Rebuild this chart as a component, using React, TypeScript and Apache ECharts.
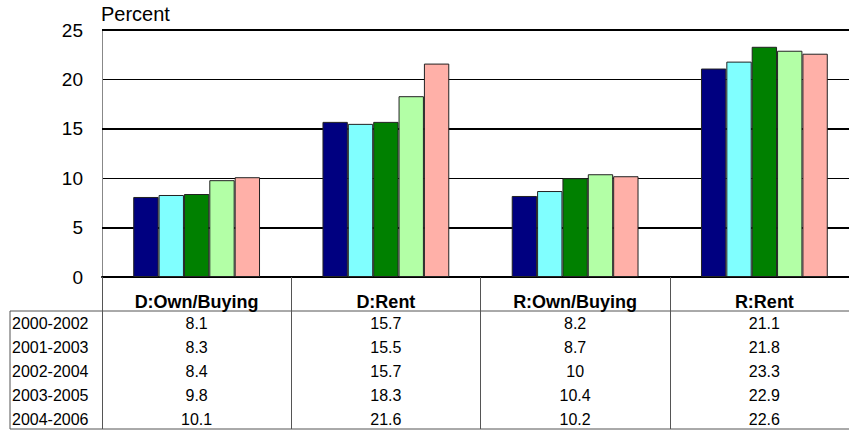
import React, { useEffect, useRef } from "react";
import * as echarts from "echarts";

const categories = ["D:Own/Buying", "D:Rent", "R:Own/Buying", "R:Rent"];
const periods = ["2000-2002", "2001-2003", "2002-2004", "2003-2005", "2004-2006"];
const s2000_2002 = [8.1, 15.7, 8.2, 21.1];
const s2001_2003 = [8.3, 15.5, 8.7, 21.8];
const s2002_2004 = [8.4, 15.7, 10, 23.3];
const s2003_2005 = [9.8, 18.3, 10.4, 22.9];
const s2004_2006 = [10.1, 21.6, 10.2, 22.6];
const seriesValues = [s2000_2002, s2001_2003, s2002_2004, s2003_2005, s2004_2006];
const colors = ["#000080", "#80FFFF", "#008000", "#B3FFA6", "#FFB0A8"];
const yTicks = [0, 5, 10, 15, 20, 25];
const thickLines = [5, 15, 25];

const FONT = "'Liberation Sans', Arial, sans-serif";

export default function App() {
  const ref = useRef<HTMLDivElement>(null);
  useEffect(() => {
    if (!ref.current) return;
    const chart = echarts.init(ref.current, null, { renderer: "svg" });
    const rowTop = 323.3;
    const rowStep = 24;
    chart.setOption({
      animation: false,
      textStyle: { fontFamily: FONT },
      grid: { left: 102, right: 0, top: 30, bottom: 153 },
      xAxis: {
        type: "category",
        data: categories,
        axisLine: { show: true, lineStyle: { color: "#000", width: 2 } },
        axisTick: { show: true, length: 152, lineStyle: { color: "#555", width: 1 } },
        axisLabel: {
          margin: 15,
          interval: 0,
          formatter: (value: string, index: number) =>
            `{h|${value}}\n` + seriesValues.map((s) => `{v|${s[index]}}`).join("\n"),
          rich: {
            h: { fontSize: 18, fontWeight: "bold", color: "#000", lineHeight: 19, fontFamily: FONT },
            v: { fontSize: 16, color: "#000", lineHeight: 24, fontFamily: FONT },
          },
        },
      },
      yAxis: {
        type: "value",
        min: yTicks[0],
        max: yTicks[yTicks.length - 1],
        interval: 5,
        axisLine: { show: true, lineStyle: { color: "#888", width: 1 } },
        axisTick: { show: false },
        axisLabel: { margin: 19, fontSize: 19, color: "#000", fontFamily: FONT },
        splitLine: { show: true, lineStyle: { color: "#000", width: 1 } },
      },
      series: seriesValues.map((s, i) => ({
        type: "bar",
        name: periods[i],
        data: s,
        barGap: "0%",
        barCategoryGap: "33%",
        itemStyle: { color: colors[i], borderColor: "#222", borderWidth: 1 },
        markLine:
          i === 0
            ? {
                silent: true,
                symbol: "none",
                label: { show: false },
                lineStyle: { color: "#000", width: 2, type: "solid" },
                data: thickLines.map((v) => ({ yAxis: v })),
                z: 1,
              }
            : undefined,
        z: 3,
      })),
      graphic: [
        {
          type: "text",
          left: 101,
          top: 4,
          style: { text: "Percent", fontSize: 20, fill: "#000", fontFamily: FONT },
        },
        {
          type: "line",
          shape: { x1: 10, y1: 311, x2: 859, y2: 311 },
          style: { stroke: "#555", lineWidth: 1 },
        },
        {
          type: "line",
          shape: { x1: 10, y1: 429, x2: 859, y2: 429 },
          style: { stroke: "#555", lineWidth: 1 },
        },
        {
          type: "line",
          shape: { x1: 10, y1: 311, x2: 10, y2: 429 },
          style: { stroke: "#555", lineWidth: 1 },
        },
        ...periods.map((p, i) => ({
          type: "text",
          x: 12,
          y: rowTop + i * rowStep,
          style: {
            text: p,
            fontSize: 16,
            fill: "#000",
            fontFamily: FONT,
            verticalAlign: "middle",
            align: "left",
          },
        })),
      ],
    });
    return () => chart.dispose();
  }, []);
  return (
    <div
      ref={ref}
      style={{ position: "fixed", left: 0, top: 0, width: 859, height: 430, background: "#fff" }}
    />
  );
}
